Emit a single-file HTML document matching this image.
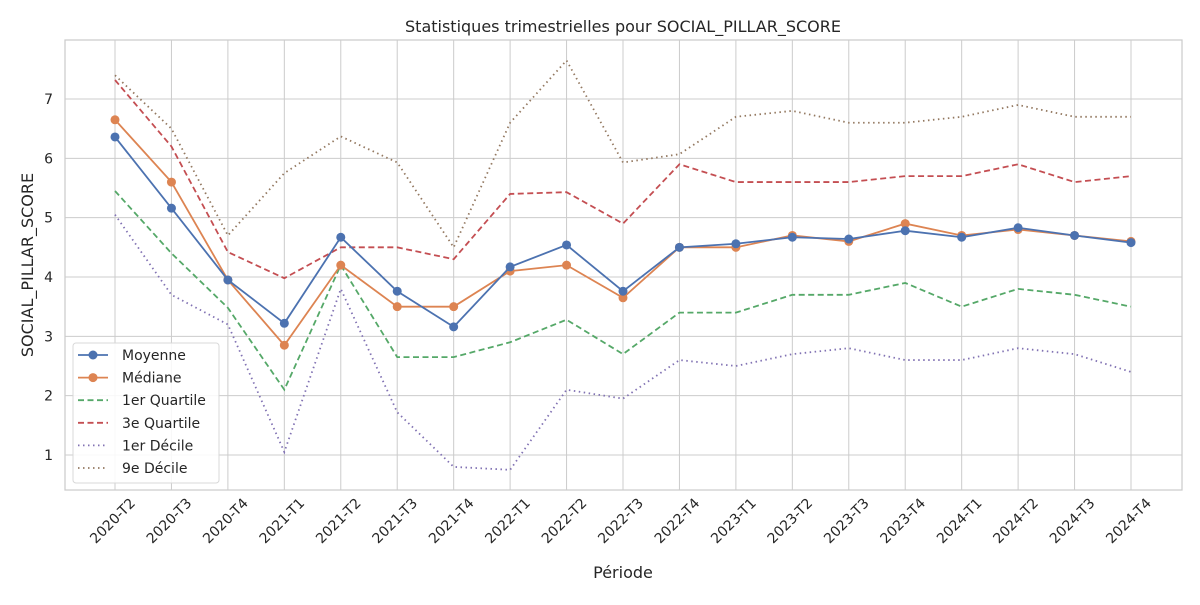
<!DOCTYPE html>
<html><head><meta charset="utf-8">
<style>
body{margin:0;background:#fff;}
svg text{font-family:"DejaVu Sans","Liberation Sans",sans-serif;fill:#262626;}
</style></head>
<body>
<svg id="chart" width="1200" height="600" xmlns="http://www.w3.org/2000/svg">
<rect width="1200" height="600" fill="#fff"/>
<g id="grid"></g>
<g id="series"></g>
<g id="axes"></g>
<text x="623" y="32" text-anchor="middle" font-size="16">Statistiques trimestrielles pour SOCIAL_PILLAR_SCORE</text>
<text x="623" y="578" text-anchor="middle" font-size="16">Période</text>
<text transform="translate(33,265) rotate(-90)" text-anchor="middle" font-size="16">SOCIAL_PILLAR_SCORE</text>
<g id="legend"></g>
</svg>
<script>
const categories=["2020-T2","2020-T3","2020-T4","2021-T1","2021-T2","2021-T3","2021-T4","2022-T1","2022-T2","2022-T3","2022-T4","2023-T1","2023-T2","2023-T3","2023-T4","2024-T1","2024-T2","2024-T3","2024-T4"];
const moyenne=[6.36,5.16,3.95,3.22,4.67,3.76,3.16,4.17,4.54,3.76,4.5,4.56,4.67,4.64,4.78,4.67,4.83,4.7,4.58];
const mediane=[6.65,5.6,3.95,2.85,4.2,3.5,3.5,4.1,4.2,3.65,4.5,4.5,4.7,4.6,4.9,4.7,4.8,4.7,4.6];
const q1=[5.45,4.4,3.48,2.1,4.2,2.65,2.65,2.9,3.28,2.7,3.4,3.4,3.7,3.7,3.9,3.5,3.8,3.7,3.5];
const q3=[7.32,6.2,4.42,3.98,4.5,4.5,4.3,5.4,5.43,4.9,5.9,5.6,5.6,5.6,5.7,5.7,5.9,5.6,5.7];
const d1=[5.05,3.7,3.2,1.05,3.8,1.72,0.8,0.75,2.1,1.95,2.6,2.5,2.7,2.8,2.6,2.6,2.8,2.7,2.4];
const d9=[7.4,6.5,4.7,5.75,6.37,5.93,4.5,6.6,7.65,5.93,6.07,6.7,6.8,6.6,6.6,6.7,6.9,6.7,6.7];
const yTicks=[1,2,3,4,5,6,7];
const seriesNames=["Moyenne","Médiane","1er Quartile","3e Quartile","1er Décile","9e Décile"];

const NS="http://www.w3.org/2000/svg";
const L=65,R=1182,T=40,B=490;
const x=i=>115+i*(1131-115)/(categories.length-1);
const y=v=>455-(v-1)*(455-99)/6;
function mk(tag,attrs,parent){const e=document.createElementNS(NS,tag);for(const k in attrs)e.setAttribute(k,attrs[k]);parent.appendChild(e);return e;}
const grid=document.getElementById('grid'),axes=document.getElementById('axes'),ser=document.getElementById('series'),leg=document.getElementById('legend');
categories.forEach((c,i)=>{
  const g=mk('line',{x1:x(i),x2:x(i),y1:T,y2:B,stroke:'#cccccc','stroke-width':1},grid);
  
  
  const t=mk('text',{x:0,y:0,'font-size':14,'text-anchor':'end',transform:`translate(${x(i)+21},${B+14}) rotate(-45)`},axes);
  t.textContent=c;
  
  
});
yTicks.forEach(v=>{
  const g=mk('line',{x1:L,x2:R,y1:y(v),y2:y(v),stroke:'#cccccc','stroke-width':1},grid);
  
  
  const t=mk('text',{x:L-12,y:y(v)+5,'font-size':14,'text-anchor':'end'},axes);
  t.textContent=v;
  
  
});
const frame=mk('rect',{x:L,y:T,width:R-L,height:B-T,fill:'none',stroke:'#cccccc','stroke-width':1.25},axes);



const defs=[
 {d:moyenne,c:'#4c72b0',dash:null,m:true},
 {d:mediane,c:'#dd8452',dash:null,m:true},
 {d:q1,c:'#55a868',dash:'6,3.5',m:false},
 {d:q3,c:'#c44e52',dash:'6,3.5',m:false},
 {d:d1,c:'#8172b3',dash:'1.5,3.5',m:false},
 {d:d9,c:'#937860',dash:'1.5,3.5',m:false}];
const order=[5,4,3,2,1,0];
order.forEach(k=>{
  const s=defs[k];
  const p=mk('polyline',{points:s.d.map((v,i)=>x(i)+','+y(v)).join(' '),fill:'none',stroke:s.c,'stroke-width':1.8},ser);
  if(s.dash)p.setAttribute('stroke-dasharray',s.dash);
  
  
  if(s.m)s.d.forEach((v,i)=>{
    const c=mk('circle',{cx:x(i),cy:y(v),r:4.5,fill:s.c},ser);
    
    
  });
});
const lb=mk('rect',{x:73,y:343,width:146,height:140,rx:3,fill:'#fff','fill-opacity':0.85,stroke:'#d8d8d8'},leg);


seriesNames.forEach((n,k)=>{
  const s=defs[k],yy=355+k*22.6;
  const ln=mk('line',{x1:78,x2:108,y1:yy,y2:yy,stroke:s.c,'stroke-width':1.8},leg);
  if(s.dash)ln.setAttribute('stroke-dasharray',s.dash);
  
  
  if(s.m){const c=mk('circle',{cx:93,cy:yy,r:4.5,fill:s.c},leg);
    
    }
  const t=mk('text',{x:122,y:yy+5,'font-size':14},leg);
  t.textContent=n;
  
  
});
</script>
</body></html>
